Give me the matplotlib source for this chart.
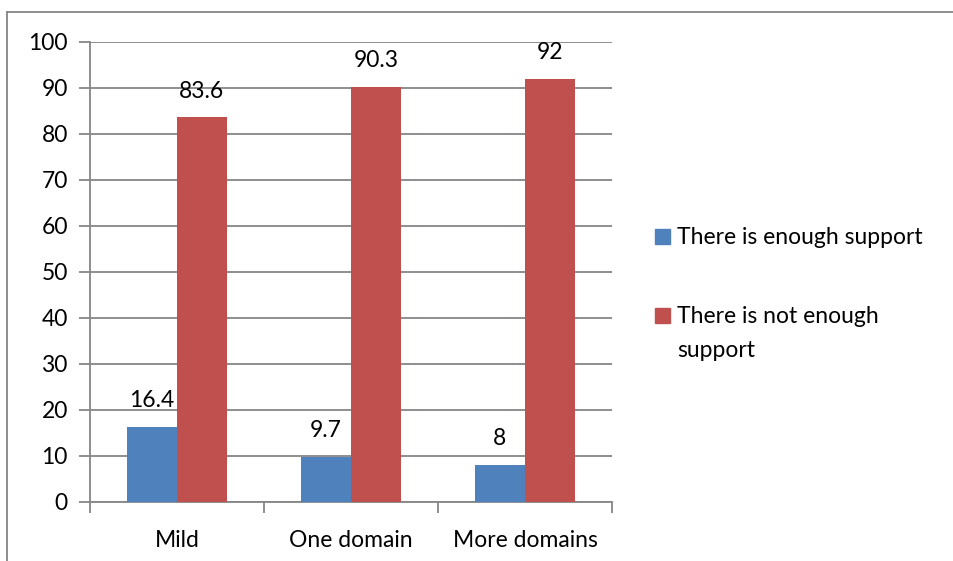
import numpy as np
import matplotlib.pyplot as plt
from matplotlib.lines import Line2D
from matplotlib.patches import Rectangle

# data
categories = ["Mild", "One domain", "More domains"]
enough = [16.4, 9.7, 8]
not_enough = [83.6, 90.3, 92]
enough_labels = ["16.4", "9.7", "8"]
not_enough_labels = ["83.6", "90.3", "92"]
series_names = ["There is enough support", "There is not enough\nsupport"]
colors = ["#4F81BD", "#C0504D"]

plt.rcParams['font.family'] = ['Lato', 'DejaVu Sans']
fs = 16.5

W, H = 954, 561
fig = plt.figure(figsize=(W / 100, H / 100), dpi=100)
ax = fig.add_axes([90 / W, (H - 502) / H, (612 - 90) / W, (502 - 42) / H])

grey = "#868686"
x = np.arange(len(categories))
bw = 50 / 174

b1 = ax.bar(x - bw / 2, enough, bw, color=colors[0], zorder=3)
b2 = ax.bar(x + bw / 2, not_enough, bw, color=colors[1], zorder=3)

for rects, labs in [(b1, enough_labels), (b2, not_enough_labels)]:
    for r, t in zip(rects, labs):
        ax.annotate(t, (r.get_x() + r.get_width() / 2, r.get_height()),
                    xytext=(0, 19), textcoords="offset points",
                    ha="center", va="center", fontsize=fs)

ax.set_xlim(-0.5, len(categories) - 0.5)
ax.set_ylim(0, 100)
ax.set_yticks(range(0, 101, 10))
ax.yaxis.grid(True, color=grey, linewidth=1.3, zorder=0)
ax.set_axisbelow(True)

# category separators as ticks
ax.set_xticks(np.arange(len(categories) + 1) - 0.5)
ax.set_xticklabels([])
ax.set_xticks(x, minor=True)
ax.set_xticklabels(categories, minor=True, fontsize=fs)
ax.tick_params(axis="x", which="minor", length=0, pad=20)
ax.tick_params(axis="x", which="major", length=8, color=grey, width=1.3)
ax.tick_params(axis="y", length=8, color=grey, width=1.3, labelsize=fs, pad=8)

for s in ["top", "right"]:
    ax.spines[s].set_visible(False)
for s in ["left", "bottom"]:
    ax.spines[s].set_color(grey)
    ax.spines[s].set_linewidth(1.3)

# legend, square aligned with the first text line
for name, col, yc in zip(series_names, colors, [236, 315]):
    fig.add_artist(Rectangle((655 / W, 1 - (yc + 7.5) / H), 15 / W, 15 / H,
                             transform=fig.transFigure, color=col))
    fig.text(677 / W, 1 - (yc - 9) / H, name, ha="left", va="top",
             fontsize=fs, linespacing=1.75)

# outer chart border (left and top)
fig.add_artist(Line2D([7 / W, 7 / W], [0, 1 - 12 / H], color=grey, linewidth=1.3))
fig.add_artist(Line2D([7 / W, 1], [1 - 12 / H, 1 - 12 / H], color=grey, linewidth=1.3))

fig.savefig("out.png", dpi=100)
